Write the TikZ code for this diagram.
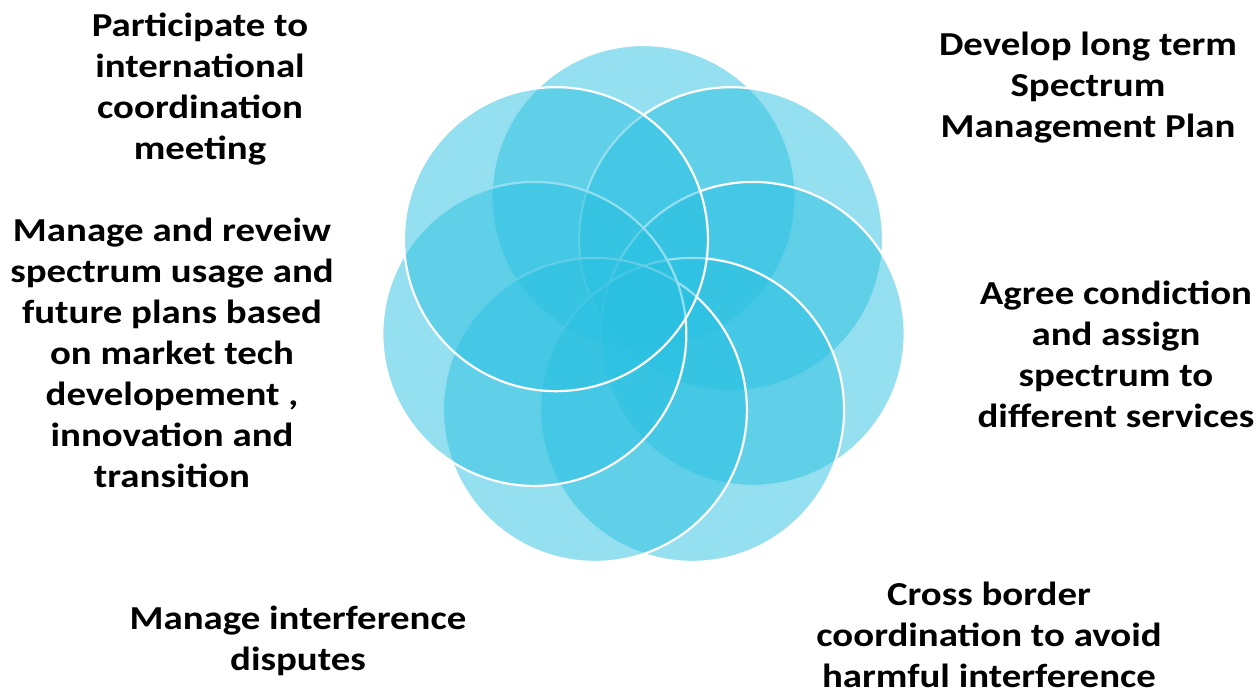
\documentclass[tikz,border=0pt]{standalone}
\usepackage{fontspec}
\setmainfont{Carlito}[FakeStretch=1.16]
\usetikzlibrary{calc}
\definecolor{petalblue}{RGB}{42,192,225}
\begin{document}
\begin{tikzpicture}[x=1pt,y=-1pt,
  petal/.style={circle, minimum size=304pt, inner sep=0pt,
    fill=petalblue, fill opacity=0.5, draw=white, draw opacity=1, line width=2.2pt},
  blurb/.style={align=center, inner sep=0pt, text=black,
    font=\bfseries\fontsize{33.5}{41}\selectfont}]
\useasboundingbox (0,0) rectangle (1259,695);
\coordinate (hub) at (643.5,309);
% seven overlapping petals, clockwise from the top
\foreach \k in {0,...,6}{
  \node[petal] (petal\k) at ($(hub)+({-90+\k*360/7}:112)$) {};
}
% activity texts around the rosette
\node[blurb] (intl) at (200,89) {Participate to\\international\\coordination\\meeting};
\node[blurb] (plan) at (1088,88) {Develop long term\\Spectrum\\Management Plan};
\node[blurb] (review) at (172,353) {Manage and reveiw\\spectrum usage and\\future plans based\\on market tech\\developement ,\\innovation and\\transition};
\node[blurb] (assign) at (1116,354) {Agree condiction\\and assign\\spectrum to\\different services};
\node[blurb] (disputes) at (298,641) {Manage interference\\disputes};
\node[blurb] (border) at (989,635) {Cross border\\coordination to avoid\\harmful interference};
\end{tikzpicture}
\end{document}
